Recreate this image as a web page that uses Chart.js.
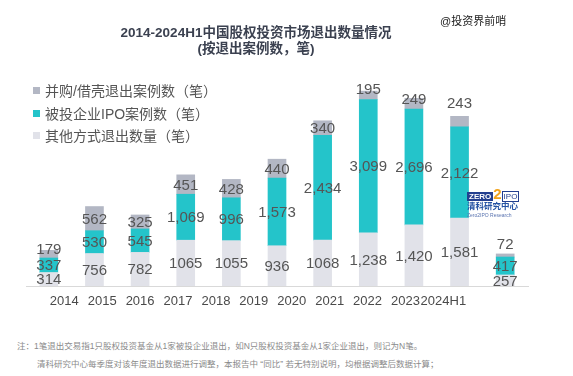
<!DOCTYPE html>
<html>
<head>
<meta charset="utf-8">
<script src="https://cdn.jsdelivr.net/npm/chart.js@4"></script>
<style>
  body { margin: 0; background: #fff; font-family: "Liberation Sans", "Noto Sans CJK SC", sans-serif; }
  #wrap { position: relative; width: 573px; height: 376px; overflow: hidden; }
  #chart { position: absolute; left: 0; top: 0; }
  .title { position: absolute; left: 0; top: 25px; width: 512px; text-align: center; font-weight: bold; font-size: 13.5px; line-height: 16px; color: #3b4150; }
  .mark { position: absolute; left: 440px; top: 12px; font-size: 11px; color: #222; }
  #legend { position: absolute; left: 33px; top: 83px; font-size: 14px; color: #555; }
  #legend div { height: 22.5px; line-height: 16px; white-space: nowrap; }
  #legend i { display: inline-block; width: 7px; height: 7px; margin-right: 5px; vertical-align: 2px; }
  .note { position: absolute; font-size: 8.5px; color: #8a8a8a; white-space: nowrap; }
  #logo { position: absolute; left: 467px; top: 187px; width: 56px; font-family: "Liberation Sans", "Noto Sans CJK SC", sans-serif; }
</style>
</head>
<body>
<div id="wrap">
  <canvas id="chart" width="573" height="320"></canvas>
  <div class="title">2014-2024H1中国股权投资市场退出数量情况<br>(按退出案例数，笔)</div>
  <div class="mark">@投资界前哨</div>
  <div id="legend"></div>
  <div id="logo">
    <div style="height:14px; white-space:nowrap; line-height:14px;">
      <span style="background:#233f8f; color:#fff; font-size:8px; font-weight:bold; padding:0 2px;">ZERO</span><span style="color:#f2a31b; font-size:15px; font-weight:bold;">2</span><span style="border:1px solid #233f8f; color:#233f8f; font-size:8px; padding:0 1px;">IPO</span>
    </div>
    <div style="color:#2452a3; font-size:8.5px; font-weight:bold; line-height:11px;">清科研究中心</div>
    <div style="color:#5a74b0; font-size:5px; line-height:6px;">Zero2IPO Research</div>
  </div>
  <div class="note" style="left:17px; top:339px;">注：1笔退出交易指1只股权投资基金从1家被投企业退出，如N只股权投资基金从1家企业退出，则记为N笔。</div>
  <div class="note" style="left:37px; top:357px;">清科研究中心每季度对该年度退出数据进行调整，本报告中 “同比” 若无特别说明，均根据调整后数据计算；</div>
</div>
<script>
// Daten
const years = ['2014', '2015', '2016', '2017', '2018', '2019', '2020', '2021', '2022', '2023', '2024H1'];
const mnaCounts = [179, 562, 325, 451, 428, 440, 340, 195, 249, 243, 72];
const ipoCounts = [337, 530, 545, 1069, 996, 1573, 2434, 3099, 2696, 2122, 417];
const otherCounts = [314, 756, 782, 1065, 1055, 936, 1068, 1238, 1420, 1581, 257];
const seriesNames = ['并购/借壳退出案例数（笔）', '被投企业IPO案例数（笔）', '其他方式退出数量（笔）'];

const colMna = '#b3b7c4';
const colIpo = '#24c4ca';
const colOther = '#e1e2e9';

// Legende als HTML (oben links, im Plotbereich)
const legend = document.getElementById('legend');
[colMna, colIpo, colOther].forEach((c, i) => {
  const row = document.createElement('div');
  row.innerHTML = '<i style="background:' + c + '"></i>' + seriesNames[i];
  legend.appendChild(row);
});

// Zahlen in den Balken
const barLabels = {
  id: 'barLabels',
  afterDatasetsDraw(chart) {
    const ctx = chart.ctx;
    ctx.save();
    ctx.font = '15px "Liberation Sans", Arial, sans-serif';
    ctx.fillStyle = '#555';
    ctx.textAlign = 'center';
    ctx.textBaseline = 'middle';
    const lift = [-5, 0, 0, 0, 0, 0, 0, -6, -5, -19, -12];
    chart.data.datasets.forEach((ds, di) => {
      const meta = chart.getDatasetMeta(di);
      meta.data.forEach((bar, i) => {
        const v = ds.data[i];
        let txt = String(v);
        if (ds.key === 'ipo' || (ds.key === 'other' && i >= 7)) txt = v.toLocaleString('en-US');
        let y = (bar.y + bar.base) / 2;
        if (ds.key === 'mna') y += lift[i];
        ctx.fillText(txt, bar.x, y + 1);
      });
    });
    ctx.restore();
  }
};

new Chart(document.getElementById('chart'), {
  type: 'bar',
  data: {
    labels: years,
    datasets: [
      { key: 'other', label: seriesNames[2], data: otherCounts, backgroundColor: colOther },
      { key: 'ipo', label: seriesNames[1], data: ipoCounts, backgroundColor: colIpo },
      { key: 'mna', label: seriesNames[0], data: mnaCounts, backgroundColor: colMna }
    ]
  },
  options: {
    responsive: false,
    animation: false,
    barThickness: 18,
    layout: { padding: { left: 26, right: 45, top: 71, bottom: 4 } },
    plugins: { legend: { display: false }, tooltip: { enabled: false } },
    scales: {
      x: { stacked: true, display: false },
      y: { stacked: true, display: false, min: 0, max: 5000 },
      // Beschriftungsachse (im Original etwas enger als die Balken)
      xl: {
        type: 'linear',
        position: 'bottom',
        min: -0.4077,
        max: 11.63,
        grid: { display: false, drawTicks: false },
        border: { display: true, color: '#d9d9d9', width: 1 },
        afterBuildTicks: (axis) => { axis.ticks = years.map((_, i) => ({ value: i })); },
        afterFit: (axis) => { axis.height = 30; },
        ticks: {
          padding: 8,
          autoSkip: false,
          maxRotation: 0,
          color: '#4a4a4a',
          font: { size: 13, family: '"Liberation Sans", Arial, sans-serif' },
          callback: (v) => years[v]
        }
      }
    }
  },
  plugins: [barLabels]
});
</script>
</body>
</html>
